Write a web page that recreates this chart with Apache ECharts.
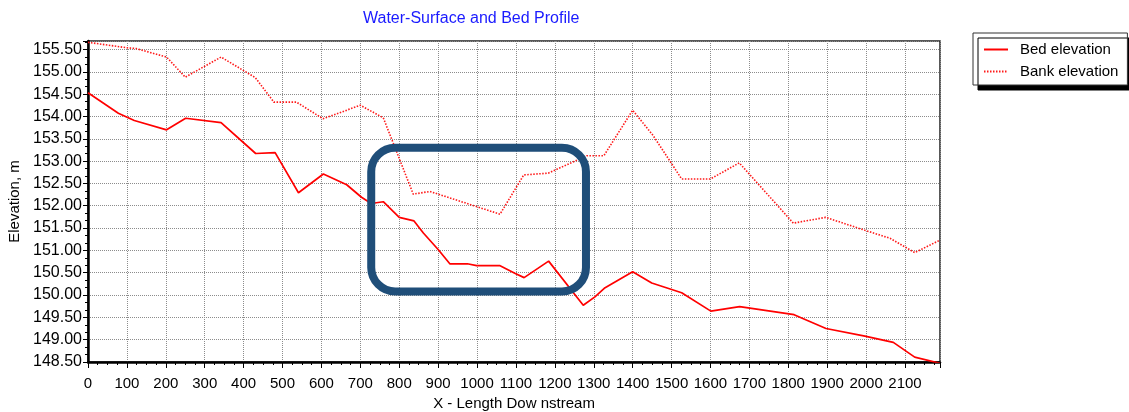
<!DOCTYPE html>
<html>
<head>
    <meta charset="utf-8" />
    <title>Water-Surface and Bed Profile</title>
    <script src="https://cdn.jsdelivr.net/npm/echarts@6/dist/echarts.min.js"></script>
    <style>
        html, body { margin: 0; padding: 0; background: #fff; }
        #chart { width: 1129px; height: 412px; }
    </style>
</head>
<body>
    <div id="chart"></div>
    <script>
        // 河床高程 (bed elevation)
        var bedX = [0, 78, 119, 202, 251, 342, 431, 481, 541, 605, 665, 703, 728, 759, 800, 838, 862, 900, 930, 975,
            999, 1058, 1097, 1121, 1184, 1273, 1303, 1327, 1400, 1449, 1526, 1601, 1675, 1815, 1897, 1997, 2070, 2125, 2190];
        var bedY = [154.53, 154.07, 153.91, 153.70, 153.96, 153.86, 153.17, 153.19, 152.29, 152.71, 152.47, 152.19, 152.05, 152.09, 151.74, 151.66, 151.39, 151.02, 150.70, 150.70,
            150.66, 150.66, 150.49, 150.39, 150.76, 149.77, 149.96, 150.15, 150.52, 150.27, 150.05, 149.64, 149.74, 149.56, 149.25, 149.08, 148.94, 148.61, 148.47];
        // 岸顶高程 (bank elevation)
        var bankX = [0, 99, 124, 202, 250, 342, 430, 478, 536, 604, 700, 759, 836, 879, 1059, 1120, 1183, 1282, 1326, 1400,
            1452, 1526, 1600, 1674, 1813, 1896, 1997, 2062, 2125, 2190];
        var bankY = [155.66, 155.54, 155.52, 155.33, 154.88, 155.33, 154.87, 154.32, 154.32, 153.95, 154.25, 153.97, 152.26, 152.32, 151.81, 152.69, 152.73, 153.12, 153.12, 154.14,
            153.58, 152.60, 152.60, 152.96, 151.61, 151.74, 151.45, 151.27, 150.95, 151.23];
        var seriesNames = ['Bed elevation', 'Bank elevation'];
        // 高亮框范围 (data coords)
        var boxX = [728, 1280];
        var boxY = [150.08, 153.30];

        function pairs(xs, ys) {
            var out = [];
            for (var i = 0; i < xs.length; i++) out.push([xs[i], ys[i]]);
            return out;
        }

        var font = 'Liberation Sans, Arial, sans-serif';
        var myChart = echarts.init(document.getElementById('chart'));
        var option = {
            animation: false,
            backgroundColor: '#fff',
            textStyle: { fontFamily: font, color: '#000' },
            title: {
                text: 'Water-Surface and Bed Profile',
                left: 363,
                top: 11,
                padding: 0,
                textStyle: { fontFamily: font, fontSize: 16, fontWeight: 'normal', color: '#1a1aff' }
            },
            legend: {
                orient: 'vertical',
                left: 973,
                top: 33,
                padding: [9, 9, 6, 10],
                itemWidth: 24,
                itemHeight: 14,
                itemGap: 7,
                itemStyle: { opacity: 0 },
                backgroundColor: '#fff',
                borderColor: '#333',
                borderWidth: 1,
                shadowColor: '#000',
                shadowBlur: 0,
                shadowOffsetX: 5,
                shadowOffsetY: 5,
                textStyle: { fontFamily: font, fontSize: 15, color: '#000', padding: [0, 0, 0, 7] },
                data: seriesNames
            },
            grid: {
                left: 88, right: 189, top: 41, bottom: 50,
                outerBoundsMode: 'none',
                containLabel: false,
                show: true,
                borderColor: '#222',
                borderWidth: 1.5
            },
            xAxis: {
                type: 'value',
                min: 0,
                max: 2190,
                interval: 100,
                name: 'X - Length Dow nstream',
                nameLocation: 'middle',
                nameGap: 33,
                nameTextStyle: { fontFamily: font, fontSize: 15, color: '#000' },
                axisLine: { show: true, onZero: false, lineStyle: { color: '#000', width: 2.5 } },
                axisTick: { show: true, length: 6, lineStyle: { color: '#000', width: 1 } },
                minorTick: { show: true, splitNumber: 4, length: 3, lineStyle: { color: '#000', width: 1 } },
                axisLabel: {
                    fontFamily: font, fontSize: 15, color: '#000', margin: 14, showMaxLabel: false,
                    formatter: function (v) { return String(v); }
                },
                splitLine: { show: true, lineStyle: { color: '#8c8c8c', width: 1, type: [1, 1] } }
            },
            yAxis: {
                type: 'value',
                min: 148.5,
                max: 155.69,
                interval: 0.5,
                name: 'Elevation, m',
                nameLocation: 'middle',
                nameGap: 60,
                nameTextStyle: { fontFamily: font, fontSize: 15, color: '#000' },
                axisLine: { show: true, lineStyle: { color: '#000', width: 2.5 } },
                axisTick: { show: true, length: 5, lineStyle: { color: '#000', width: 1 } },
                minorTick: { show: true, splitNumber: 3, length: 3, lineStyle: { color: '#000', width: 1 } },
                axisLabel: {
                    fontFamily: font, fontSize: 16, color: '#000', margin: 6, showMaxLabel: false,
                    formatter: function (v) { return v.toFixed(2); }
                },
                splitLine: { show: true, lineStyle: { color: '#8c8c8c', width: 1, type: [1, 1] } }
            },
            series: [
                {
                    name: seriesNames[0],
                    type: 'line',
                    symbol: 'none',
                    data: pairs(bedX, bedY),
                    lineStyle: { color: '#ff0000', width: 1.7 },
                    itemStyle: { color: '#ff0000' }
                },
                {
                    name: seriesNames[1],
                    type: 'line',
                    symbol: 'none',
                    data: pairs(bankX, bankY),
                    lineStyle: { color: '#ff1a1a', width: 1.6, type: [1.5, 1.5] },
                    itemStyle: { color: '#ff1a1a' }
                }
            ]
        };
        myChart.setOption(option);

        // 圆角高亮框
        var p0 = myChart.convertToPixel({ gridIndex: 0 }, [boxX[0], boxY[1]]);
        var p1 = myChart.convertToPixel({ gridIndex: 0 }, [boxX[1], boxY[0]]);
        myChart.setOption({
            graphic: [{
                type: 'rect',
                z: 100,
                shape: { x: p0[0], y: p0[1], width: p1[0] - p0[0], height: p1[1] - p0[1], r: 24 },
                style: { fill: 'none', stroke: '#1f4e79', lineWidth: 8 }
            }]
        });
    </script>
</body>
</html>
